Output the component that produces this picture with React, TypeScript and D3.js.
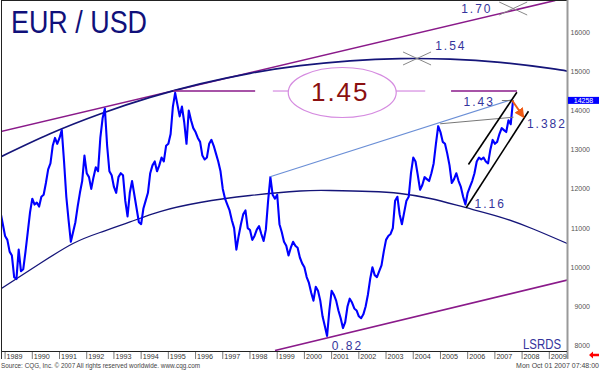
import React from 'react';
import * as d3 from 'd3';

// ---- data ----
const seriesStart = { year: 1988, month: 10 }; // Nov 1988, monthly points
const closes = [
  11400, 11100,
  10800, 10700, 10400, 10300, 9750, 9700, 10450, 9900, 9950, 10400, 10900, 11400,
  11750, 11600, 11650, 11550, 11800, 11850, 12150, 12500, 12650, 13100, 13300, 13150,
  13300, 13500, 12700, 11800, 11200, 10650, 10900, 11150, 11550, 11900, 12200, 12850,
  12400, 12300, 12000, 12300, 12550, 12450, 13300, 13800, 14050, 13100, 12450, 12350,
  12050, 11900, 12300, 12400, 12350, 11700, 11300, 11900, 12200, 11850, 11500, 11150,
  11100, 11500, 11700, 11900, 12400, 12600, 12700, 12450, 12600, 12800, 12700, 13100,
  13150, 13400, 14100, 14450, 14150, 13850, 14100, 13700, 13150, 14000, 13750, 13550,
  13450, 13300, 13200, 12850, 12750, 12800, 13150, 13250, 13100, 12900, 12700, 12450,
  12000, 11750, 11600, 11450, 11200, 11000, 10450, 10800, 11100, 11350, 11450, 11000,
  10950, 10700, 10800, 10960, 11050, 10850, 10670, 10960, 11700, 12300, 11850, 11750,
  11850, 11100, 10900, 10650, 10550, 10300, 10500, 10650, 10550, 10500, 10250, 10100,
  10000, 9750, 9600, 9350, 9150, 9500, 9400, 9150, 8750, 8500, 8250, 8900,
  9400, 9300, 9150, 8900, 8700, 8450, 8600, 9000, 9200, 9100, 8950, 8900,
  8750, 8700, 8800, 9000, 9300, 9700, 10000, 9800, 9750, 9900, 10050, 10400,
  10700, 10800, 10850, 11000, 11700, 11800, 11350, 11100, 11400, 11700, 11800, 12400,
  12800, 12700, 12350, 11980, 12100, 12300, 12250, 12200, 12400, 12650, 13150, 13600,
  13450, 13200, 13150, 12900, 12600, 12150, 12250, 12400, 12200, 12050, 11800, 11600,
  11900, 12050, 12200, 12400, 12700, 12800, 12750, 12800, 12700, 12650, 13000, 13250,
  13150, 13200, 13400, 13550, 13500, 13450, 13750, 13650, 14258,
];
const lastPrice = 14258;
const yearLabels = d3.range(1989, 2010);
const priceTicks = [8000, 9000, 10000, 11000, 12000, 13000, 14000, 15000, 16000];

// annotation geometry in data space: [decimal year, price]
const upperPurple: [number, number][] = [[1988.81, 13457], [2009.22, 16806]];
const lowerPurple: [number, number][] = [[1998.92, 7878], [2009.66, 9673]];
const upperArc: [number, number][] = [
  [1988.813, 12809], [1990.651, 13406], [1992.489, 13911], [1994.327, 14334],
  [1996.165, 14679], [1998.004, 14949], [1999.842, 15143], [2001.68, 15268],
  [2003.518, 15324], [2005.357, 15311], [2007.195, 15227], [2009.033, 15074],
  [2009.658, 15005],
];
const lowerArc: [number, number][] = [
  [1988.813, 9434], [1990.283, 10097], [1991.496, 10607], [1992.489, 10888],
  [1993.592, 11156], [1994.695, 11423], [1996.165, 11653], [1998.004, 11832],
  [1999.842, 11946], [2000.945, 11959], [2002.415, 11934], [2003.518, 11883],
  [2004.621, 11755], [2005.908, 11526], [2007.195, 11283], [2008.408, 10977],
  [2009.658, 10607],
];
const level145 = 14497;
const level145Dark: [number, number][] = [[1995.18, 1998.19], [2005.39, 2007.81]];
const level145Light: [number, number][] = [[1998.84, 1999.41], [2003.37, 2004.44]];
const ellipseCenterYear = 2001.39;
const steelLine: [number, number][] = [[1998.74, 12309], [2007.636, 14281]];
const grayLine: [number, number][] = [[2004.989, 13661], [2007.684, 13829]];
const grayTick: [number, number][] = [[2007.257, 14255], [2007.684, 14255]];
const channelUpper: [number, number][] = [[2006.029, 12622], [2007.809, 14467]];
const channelLower: [number, number][] = [[2005.945, 11518], [2008.235, 13982]];
const orangeArrow: [number, number][] = [[2007.636, 14255], [2008.04, 13847]];
const crossMarks: [number, number][] = [[2004.14, 15327], [2007.673, 16602]];
const levelLabels = [
  { text: '1.70', t: 2005.761, v: 16500 },
  { text: '1.54', t: 2004.805, v: 15538 },
  { text: '1.43', t: 2005.846, v: 14110 },
  { text: '1.382', t: 2008.176, v: 13559 },
  { text: '1.16', t: 2006.25, v: 11518 },
  { text: '0.82', t: 2001.007, v: 7903 },
];

const W = 600;
const H = 370;
const plot = { left: 1, top: 1, right: 567, bottom: 351 };

export default function App() {
  const x = d3.scaleLinear().domain([1990, 2009]).range([32.3, 549.3]);
  const y = d3.scaleLinear().domain([8000, 16000]).range([345.7, 32.1]);
  const pts: [number, number][] = closes.map((v, i) => [
    seriesStart.year + (seriesStart.month + i) / 12,
    v,
  ]);
  const line = d3.line<[number, number]>().x(d => x(d[0])).y(d => y(d[1]));
  const curve = d3
    .line<[number, number]>()
    .x(d => x(d[0]))
    .y(d => y(d[1]))
    .curve(d3.curveNatural);
  const navy = '#151579';
  const purple = '#8a1a8a';
  const violet = '#d58be0';
  const labelColor = '#34349c';
  const font = 'Liberation Sans, Arial, Helvetica, sans-serif';
  const ecx = x(ellipseCenterYear);
  const ecy = y(level145);

  return (
    <svg
      width={W}
      height={H}
      style={{ position: 'absolute', left: 0, top: 0, background: '#fff' }}
      fontFamily={font}
    >
      <defs>
        <clipPath id="plotClip">
          <rect x={plot.left} y={plot.top} width={plot.right - plot.left} height={plot.bottom - plot.top} />
        </clipPath>
        <marker id="arrowHead" viewBox="0 0 10 10" refX="8" refY="5" markerWidth="5" markerHeight="5" orient="auto">
          <path d="M0,0 L10,5 L0,10 z" fill="#f05a14" />
        </marker>
      </defs>
      <rect x={0} y={0} width={W} height={H} fill="#fff" />

      <g clipPath="url(#plotClip)">
        {/* big arcs and trend lines */}
        <path d={line(upperPurple) || ''} stroke={purple} strokeWidth={1.6} fill="none" />
        <path d={line(lowerPurple) || ''} stroke={purple} strokeWidth={1.6} fill="none" />
        <path d={curve(upperArc) || ''} stroke={navy} strokeWidth={1.7} fill="none" />
        <path d={curve(lowerArc) || ''} stroke={navy} strokeWidth={1.3} fill="none" />

        {/* 1.45 level */}
        {level145Dark.map((s, i) => (
          <line key={'d' + i} x1={x(s[0])} x2={x(s[1])} y1={ecy} y2={ecy} stroke={purple} strokeWidth={1.6} />
        ))}
        {level145Light.map((s, i) => (
          <line key={'l' + i} x1={x(s[0])} x2={x(s[1])} y1={ecy} y2={ecy} stroke={violet} strokeWidth={1.2} />
        ))}
        <ellipse cx={ecx} cy={ecy + 1.5} rx={54} ry={25} fill="none" stroke={violet} strokeWidth={1.2} />
        <text x={ecx - 2} y={ecy + 10} fontSize={26} fill="#8b1010" textAnchor="middle" letterSpacing={2}>
          1.45
        </text>

        {/* price */}
        <path d={line(pts) || ''} stroke="#0000ff" strokeWidth={2.1} fill="none" strokeLinejoin="round" />

        {/* projection lines */}
        <path d={line(steelLine) || ''} stroke="#6b8fd6" strokeWidth={1.2} fill="none" />
        <path d={line(grayLine) || ''} stroke="#777" strokeWidth={1} fill="none" />
        <path d={line(grayTick) || ''} stroke="#777" strokeWidth={1} fill="none" />
        <path d={line(channelUpper) || ''} stroke="#000" strokeWidth={1.6} fill="none" />
        <path d={line(channelLower) || ''} stroke="#000" strokeWidth={1.6} fill="none" />
        <path d={line(orangeArrow) || ''} stroke="#f05a14" strokeWidth={2} fill="none" markerEnd="url(#arrowHead)" />

        {crossMarks.map((c, i) => (
          <g key={'c' + i} stroke="#888" strokeWidth={1}>
            <line x1={x(c[0]) - 14} y1={y(c[1]) - 6.5} x2={x(c[0]) + 14} y2={y(c[1]) + 6.5} />
            <line x1={x(c[0]) - 14} y1={y(c[1]) + 6.5} x2={x(c[0]) + 14} y2={y(c[1]) - 6.5} />
          </g>
        ))}

        {levelLabels.map(l => (
          <text key={l.text} x={x(l.t)} y={y(l.v)} fontSize={12} fill={labelColor} letterSpacing={2}>
            {l.text}
          </text>
        ))}

        <text x={plot.right - 6} y={plot.bottom - 2} fontSize={14} fill={labelColor} textAnchor="end" textLength={38} lengthAdjust="spacingAndGlyphs">
          LSRDS
        </text>
      </g>

      {/* title */}
      <text x={11} y={33} fontSize={32} fill="#10107a" textLength={136} lengthAdjust="spacingAndGlyphs">
        EUR / USD
      </text>

      {/* frame */}
      <line x1={plot.left} x2={plot.right} y1={0.5} y2={0.5} stroke="#222" strokeWidth={1} />
      <line x1={1.5} x2={1.5} y1={0} y2={plot.bottom} stroke="#222" strokeWidth={1} />
      <line x1={plot.right + 0.5} x2={plot.right + 0.5} y1={0} y2={plot.bottom + 8} stroke="#999" strokeWidth={2} />
      <line x1={plot.left} x2={plot.right} y1={plot.bottom + 0.5} y2={plot.bottom + 0.5} stroke="#222" strokeWidth={1} />

      {/* right axis */}
      {priceTicks.map(t => (
        <text key={t} x={590} y={y(t) + 2.5} fontSize={7} fill="#555" textAnchor="end">
          {t}
        </text>
      ))}
      <rect x={568} y={y(lastPrice) - 3.5} width={31} height={7} fill="#0000ff" />
      <text x={583.5} y={y(lastPrice) + 2.5} fontSize={7} fill="#fff" textAnchor="middle">
        {lastPrice}
      </text>

      {/* x axis */}
      <line x1={1.5} x2={1.5} y1={plot.bottom} y2={plot.bottom + 8} stroke="#333" />
      {yearLabels.map(yr => (
        <g key={yr}>
          <line x1={x(yr)} x2={x(yr)} y1={plot.bottom + 1} y2={plot.bottom + 8} stroke="#555" strokeWidth={0.8} />
          <text x={x(yr) + 1.5} y={plot.bottom + 7.5} fontSize={7.2} fill="#333">
            {yr}
          </text>
        </g>
      ))}

      {/* red arrow */}
      <path d="M589,355 L593,351.5 L593,353.8 L599,353.8 L599,356.2 L593,356.2 L593,358.5 Z" fill="#ff0000" />

      {/* footer */}
      <text x={1} y={368} fontSize={7} fill="#444" textLength={199} lengthAdjust="spacingAndGlyphs">
        Source: CQG, Inc. © 2007 All rights reserved worldwide. www.cqg.com
      </text>
      <text x={599} y={368} fontSize={7} fill="#444" textAnchor="end">
        Mon Oct 01 2007 07:48:00
      </text>
    </svg>
  );
}
